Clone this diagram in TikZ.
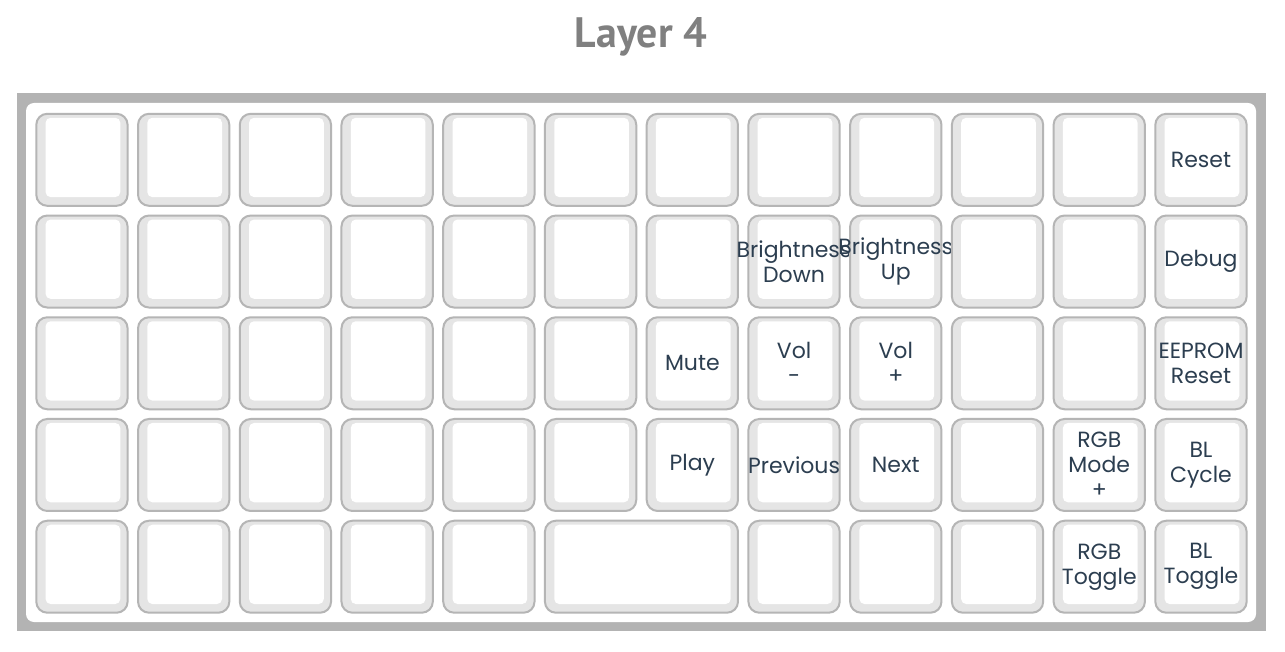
\documentclass[tikz,border=0pt]{standalone}
\usepackage{fontspec}
\setmainfont{Poppins}
\newfontfamily\titlefont{PT Sans}
\definecolor{framegray}{HTML}{B3B3B3}
\definecolor{keyborder}{HTML}{B5B5B5}
\definecolor{keyfill}{HTML}{E5E5E5}
\definecolor{labelcol}{HTML}{2C3E50}
\definecolor{titlecol}{HTML}{808080}
\newcommand\kb[5]{%
  \pgfmathsetmacro\kx{35.3+#2*101.73}%
  \pgfmathsetmacro\ky{112.8+#3*101.73}%
  \pgfmathsetmacro\kw{#4*101.73-10.43}%
  \node[keyouter, minimum width=\kw pt, anchor=north west] (#1) at (\kx,\ky) {};
  \fill[white, rounded corners=5pt] ([shift={(10.3pt,-5pt)}]#1.north west) rectangle ([shift={(-8.3pt,9.7pt)}]#1.south east);
  \node[keylabel] (#1-t) at (#1.center) {#5};
}
\begin{document}
\begin{tikzpicture}[x=1pt,y=-1pt,
  keyouter/.style={draw=keyborder, line width=2pt, fill=keyfill, rounded corners=11pt, minimum height=92pt, inner sep=0pt},
  keylabel/.style={text=labelcol, align=center, inner sep=0pt, font=\fontsize{22}{25}\selectfont}]
\useasboundingbox (0,0) rectangle (1285,652);
\fill[white] (0,0) rectangle (1285,652);
\node[text=titlecol, inner sep=0pt, anchor=base] (title) at (641,47.7) {\resizebox{132pt}{30pt}{\titlefont\bfseries Layer 4}};
\fill[framegray] (16.5,93.5) rectangle (1265.5,631);
\fill[white, rounded corners=8pt] (26,103) rectangle (1256,622);
% row 0
\foreach \c in {0,...,10} {\kb{k0-\c}{\c}{0}{1}{}}
\kb{k0-11}{11}{0}{1}{Reset}
% row 1
\foreach \c in {0,...,6} {\kb{k1-\c}{\c}{1}{1}{}}
\kb{k1-7}{7}{1}{1}{Brightness\\Down}
\kb{k1-8}{8}{1}{1}{Brightness\\Up}
\kb{k1-9}{9}{1}{1}{}
\kb{k1-10}{10}{1}{1}{}
\kb{k1-11}{11}{1}{1}{Debug}
% row 2
\foreach \c in {0,...,5} {\kb{k2-\c}{\c}{2}{1}{}}
\kb{k2-6}{6}{2}{1}{Mute}
\kb{k2-7}{7}{2}{1}{Vol\\-}
\kb{k2-8}{8}{2}{1}{Vol\\+}
\kb{k2-9}{9}{2}{1}{}
\kb{k2-10}{10}{2}{1}{}
\kb{k2-11}{11}{2}{1}{EEPROM\\Reset}
% row 3
\foreach \c in {0,...,5} {\kb{k3-\c}{\c}{3}{1}{}}
\kb{k3-6}{6}{3}{1}{Play}
\kb{k3-7}{7}{3}{1}{Previous}
\kb{k3-8}{8}{3}{1}{Next}
\kb{k3-9}{9}{3}{1}{}
\kb{k3-10}{10}{3}{1}{RGB\\Mode\\+}
\kb{k3-11}{11}{3}{1}{BL\\Cycle}
% row 4
\foreach \c in {0,...,4} {\kb{k4-\c}{\c}{4}{1}{}}
\kb{k4-5}{5}{4}{2}{}
\kb{k4-7}{7}{4}{1}{}
\kb{k4-8}{8}{4}{1}{}
\kb{k4-9}{9}{4}{1}{}
\kb{k4-10}{10}{4}{1}{RGB\\Toggle}
\kb{k4-11}{11}{4}{1}{BL\\Toggle}
\end{tikzpicture}
\end{document}
